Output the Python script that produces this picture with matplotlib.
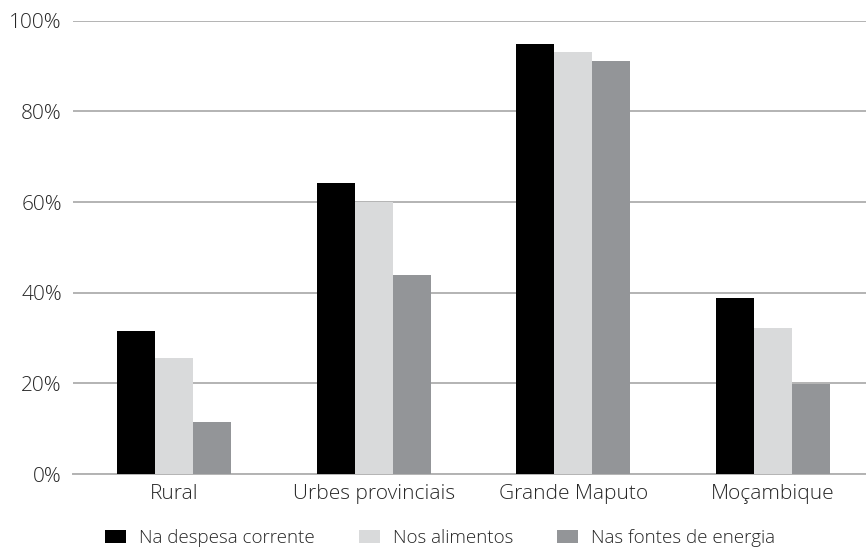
import matplotlib
matplotlib.use("Agg")
import matplotlib.pyplot as plt
import numpy as np
from matplotlib.ticker import PercentFormatter

plt.rcParams['font.family'] = ['Open Sans', 'DejaVu Sans']

categories = ["Rural", "Urbes provinciais", "Grande Maputo", "Moçambique"]
series_names = ["Na despesa corrente", "Nos alimentos", "Nas fontes de energia"]
despesa = [31.6, 64.3, 94.8, 38.9]
alimentos = [25.5, 60.0, 93.0, 32.1]
energia = [11.4, 43.8, 91.0, 19.8]
colors = ["#000000", "#D9DADB", "#939598"]

fig = plt.figure(figsize=(8.66, 5.5), dpi=100)
ax = fig.add_axes([73 / 866, 76 / 550, 1 - 73 / 866, (529.3 - 76) / 550])

x = np.arange(len(categories))
w = 0.19
for i, (vals, name, c) in enumerate(zip([despesa, alimentos, energia], series_names, colors)):
    ax.bar(x + (i - 1) * w, vals, width=w, color=c, label=name, zorder=3)

ax.set_xlim(-0.505, 3.465)
ax.set_ylim(0, 100)
ax.set_yticks(np.arange(0, 101, 20))
ax.yaxis.set_major_formatter(PercentFormatter(decimals=0))
ax.grid(axis='y', color='#B3B3B3', linewidth=1.4, zorder=0)
for s in ['top', 'right', 'left']:
    ax.spines[s].set_visible(False)
ax.spines['bottom'].set_color('#B3B3B3')
ax.spines['bottom'].set_linewidth(1.4)
ax.set_xticks(x)
ax.set_xticklabels(categories)
ax.tick_params(axis='both', length=0, labelsize=15, colors='#262626')
ax.tick_params(axis='y', pad=8)
ax.tick_params(axis='x', pad=7)
for lbl in ax.get_xticklabels() + ax.get_yticklabels():
    lbl.set_fontweight('light')

leg = fig.legend(loc='center', bbox_to_anchor=(440 / 866, 12 / 550), ncol=3, frameon=False,
                 fontsize=13.5, handlelength=1.12, handleheight=0.7, handletextpad=0.7,
                 columnspacing=2.35, borderpad=0, borderaxespad=0)
for t in leg.get_texts():
    t.set_fontweight('light')
    t.set_color('#262626')

fig.savefig("out.png", dpi=100)
